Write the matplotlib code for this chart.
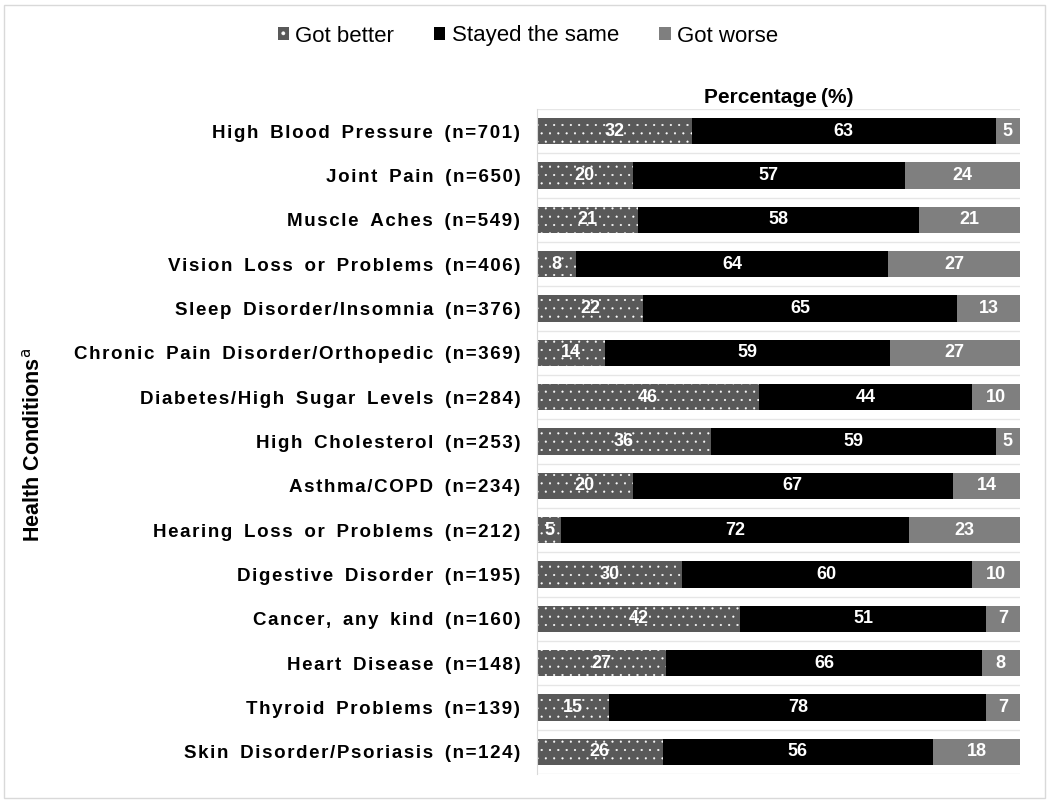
import matplotlib
matplotlib.use("Agg")
import matplotlib.pyplot as plt
from matplotlib.patches import Rectangle
import numpy as np

conditions = ["High Blood Pressure (n=701)", "Joint Pain (n=650)", "Muscle Aches (n=549)",
              "Vision Loss or Problems (n=406)", "Sleep Disorder/Insomnia (n=376)",
              "Chronic Pain Disorder/Orthopedic (n=369)", "Diabetes/High Sugar Levels (n=284)",
              "High Cholesterol (n=253)", "Asthma/COPD (n=234)", "Hearing Loss or Problems (n=212)",
              "Digestive Disorder (n=195)", "Cancer, any kind (n=160)", "Heart Disease (n=148)",
              "Thyroid Problems (n=139)", "Skin Disorder/Psoriasis (n=124)"]
got_better = [32, 20, 21, 8, 22, 14, 46, 36, 20, 5, 30, 42, 27, 15, 26]
stayed_same = [63, 57, 58, 64, 65, 59, 44, 59, 67, 72, 60, 51, 66, 78, 56]
got_worse = [5, 24, 21, 27, 13, 27, 10, 5, 14, 23, 10, 7, 8, 7, 18]
series_names = ["Got better", "Stayed the same", "Got worse"]

plt.rcParams['font.family'] = ['Liberation Sans', 'DejaVu Sans']
plt.rcParams['hatch.color'] = 'white'
plt.rcParams['hatch.linewidth'] = 0.3

fig = plt.figure(figsize=(10.5, 8.02), dpi=100)
ax = fig.add_axes([537/1050, 1-774/802, (1020-537)/1050, (774-109)/802])

n = len(conditions)
y = np.arange(n)
b = np.array(got_better, float); s = np.array(stayed_same, float); w = np.array(got_worse, float)
tot = b + s + w
bp, sp, wp = b/tot*100, s/tot*100, w/tot*100
h = 0.6
ax.barh(y, bp, height=h, color='#595959', edgecolor='white', linewidth=0, hatch='..')
ax.barh(y, sp, left=bp, height=h, color='black', linewidth=0)
ax.barh(y, wp, left=bp+sp, height=h, color='#7f7f7f', linewidth=0)

for i in range(n):
    for val, left, width in [(got_better[i], 0, bp[i]), (stayed_same[i], bp[i], sp[i]), (got_worse[i], bp[i]+sp[i], wp[i])]:
        ax.text(left + width/2, y[i], str(val), ha='center', va='center', color='white',
                fontsize=13, fontweight='bold')

def tracked(label):
    hs = '\u200a'
    return hs.join(list(label)).replace(' ', hs + ' ' + hs)

ax.set_xlim(0, 100)
ax.set_ylim(n-0.5, -0.5)
ax.set_xticks([])
ax.set_yticks(y)
ax.set_yticklabels([tracked(c) for c in conditions], fontsize=13.5, fontweight='bold')
ax.tick_params(axis='y', length=0, pad=12)
for k in ['top', 'right', 'bottom']:
    ax.spines[k].set_visible(False)
ax.spines['left'].set_color('#d9d9d9')
for k in range(n+1):
    ax.axhline(k-0.5, color='#e6e6e6', linewidth=1, zorder=0)

ax.set_title('Percentage\u2009(%)', fontsize=15, fontweight='bold', pad=4)
fig.text(33/1050, 1-445/802, 'Health Conditions$^{\\mathrm{a}}$', rotation=90, ha='center', va='center',
         fontsize=15.5, fontweight='bold')

handles = [Rectangle((0, 0), 1, 1, facecolor='#595959', hatch='.', edgecolor='white', linewidth=0),
           Rectangle((0, 0), 1, 1, facecolor='black'),
           Rectangle((0, 0), 1, 1, facecolor='#7f7f7f')]
fig.legend(handles, series_names, loc='center', bbox_to_anchor=(528/1050, 1-36/802), ncol=3,
           frameon=False, fontsize=16, handlelength=0.5, handleheight=0.5, handletextpad=0.3,
           columnspacing=1.8)

fig.patches.append(Rectangle((4/1050, 4/802), 1041/1050, 793/802, transform=fig.transFigure,
                             fill=False, edgecolor='#d9d9d9', linewidth=1))
fig.savefig('out.png', dpi=100, facecolor='white')
